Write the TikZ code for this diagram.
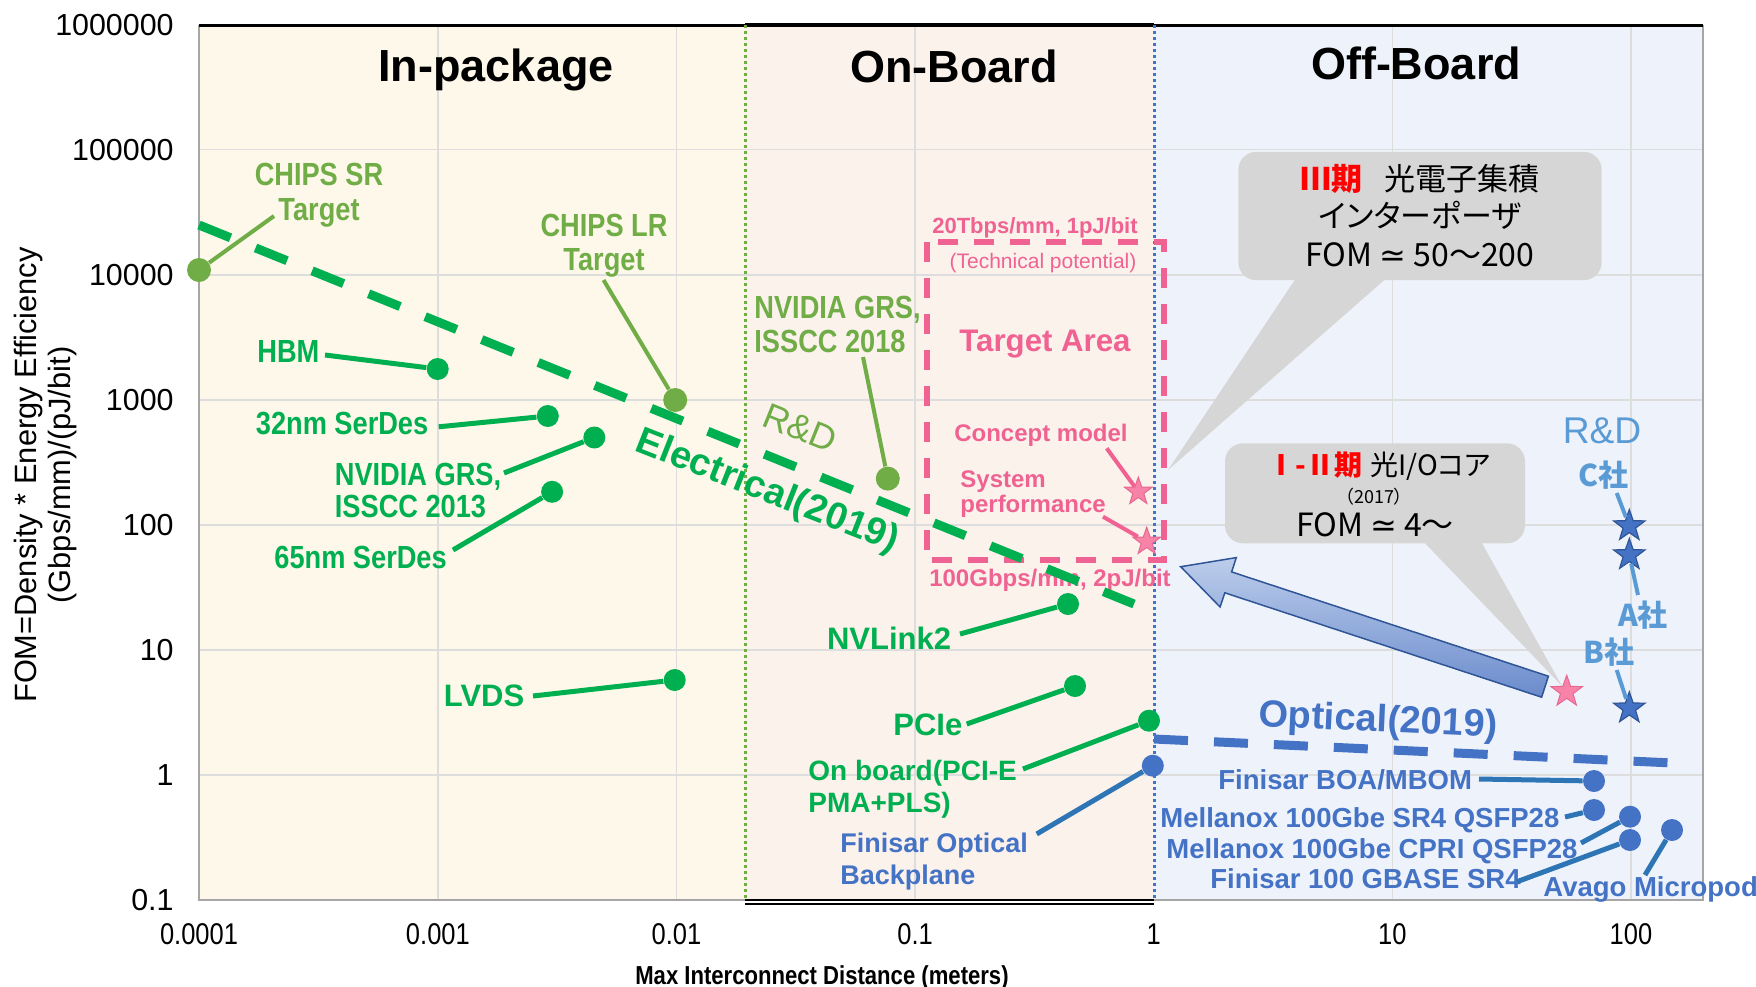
\documentclass[tikz,border=0pt]{standalone}
\usepackage{fontspec}
\setmainfont{Liberation Sans}
\newfontfamily\cond{Liberation Sans}[FakeStretch=0.85]
\newfontfamily\jp{Noto Sans CJK JP}[RawFeature=+palt]
\newfontfamily\dv{DejaVu Sans}
\usetikzlibrary{shapes.geometric}
\newcommand{\fz}[2]{\fontsize{#1}{#2}\selectfont}
\definecolor{cream}{HTML}{FDF8EA}
\definecolor{peach}{HTML}{FBF2EC}
\definecolor{lblue}{HTML}{EEF3FB}
\definecolor{gridc}{HTML}{DDDDDD}
\definecolor{egreen}{HTML}{00B050}
\definecolor{olive}{HTML}{70AD47}
\definecolor{oblue}{HTML}{4472C4}
\definecolor{dblue}{HTML}{2E75B6}
\definecolor{rdblue}{HTML}{5B9BD5}
\definecolor{pinkc}{HTML}{EF6292}
\definecolor{starpink}{HTML}{F784A8}
\definecolor{stardraw}{HTML}{E8668F}
\definecolor{bstardraw}{HTML}{2F5597}
\definecolor{callgray}{HTML}{D6D6D6}
\definecolor{axisgray}{HTML}{A6A6A6}
\definecolor{arrowtop}{HTML}{BCCDEB}
\definecolor{arrowbot}{HTML}{6A8BCC}
\definecolor{arrowline}{HTML}{2F5597}
\begin{document}
\begin{tikzpicture}[x=0.5pt,y=-0.5pt,
  dotg/.style={circle,fill=egreen,minimum size=11pt,inner sep=0pt},
  doto/.style={circle,fill=olive,minimum size=12pt,inner sep=0pt},
  dotb/.style={circle,fill=oblue,minimum size=11pt,inner sep=0pt},
  gline/.style={egreen,line width=2.5pt},
  oline/.style={olive,line width=2pt},
  bline/.style={dblue,line width=2.5pt},
  rdline/.style={rdblue,line width=2pt},
  pline/.style={pinkc,line width=2pt},
  glab/.style={inner sep=0pt,text=egreen,font=\cond\bfseries\fz{16}{16}},
  gwlab/.style={inner sep=0pt,text=egreen,font=\bfseries\fz{15.5}{15.5}},
  olab/.style={inner sep=0pt,text=olive,font=\cond\bfseries\fz{16}{17}},
  blab/.style={inner sep=0pt,text=oblue,font=\bfseries\fz{13.75}{15}},
  plab/.style={inner sep=0pt,text=pinkc,font=\bfseries\fz{12}{12.5}},
  rdlab/.style={inner sep=0pt,text=rdblue,font=\jp\bfseries\fz{15}{15}},
  titlelab/.style={inner sep=0pt,font=\bfseries\fz{22.5}{22.5}},
  ytick/.style={inner sep=0pt,anchor=east,font=\fz{15.2}{15.2}},
  xtick/.style={inner sep=0pt,font=\cond\fz{15}{15}},
  gridln/.style={gridc,line width=0.75pt},
  pstar/.style={star,star points=5,star point ratio=2.5,inner sep=0pt,minimum size=14.5pt,fill=starpink,draw=stardraw,line width=0.5pt},
  bstar/.style={star,star points=5,star point ratio=2.5,inner sep=0pt,minimum size=16.5pt,fill=oblue,draw=bstardraw,line width=0.6pt},
  callout/.style={fill=callgray,rounded corners=9pt,inner sep=0pt},
  ctext/.style={inner sep=0pt,font=\jp\fz{15.5}{15.5}},
]
\useasboundingbox (0,0) rectangle (1756,986);
% region backgrounds
\fill[cream] (199,25) rectangle (745,900);
\fill[peach] (745,25) rectangle (1154,900);
\fill[lblue] (1154,25) rectangle (1703,900);
% grid
\foreach \yy in {149.7,274.8,399.9,525,650.1,775.2} \draw[gridln] (199,\yy) -- (1703,\yy);
\foreach \xx in {437.9,676.5,915.1,1392.3,1630.9} \draw[gridln] (\xx,25) -- (\xx,900);
% frame
\draw[axisgray,line width=1.25pt] (199,25) -- (199,900) -- (745,900);
\draw[axisgray,line width=1pt] (1154,900) -- (1703,900) -- (1703,25);
\draw[black,line width=1.5pt] (199,25) -- (1703,25);
\draw[black,line width=2.3pt] (745,25) -- (1154,25);
\draw[black,line width=1pt] (745,900) -- (1154,900);
\draw[black,line width=1pt] (745,904) -- (1154,904);
\draw[olive,line width=1.5pt,dash pattern=on 1.5pt off 1.5pt] (745,25) -- (745,900);
\draw[oblue,line width=1.5pt,dash pattern=on 1.5pt off 1.5pt] (1154,25) -- (1154,900);

% axis ticks
\node[ytick] (y6) at (174,25) {1000000};
\node[ytick] (y5) at (174,149.7) {100000};
\node[ytick] (y4) at (174,274.8) {10000};
\node[ytick] (y3) at (174,399.9) {1000};
\node[ytick] (y2) at (174,525) {100};
\node[ytick] (y1) at (174,650.1) {10};
\node[ytick] (y0) at (174,775.2) {1};
\node[ytick] (ym) at (174,900.3) {0.1};
\node[xtick] (x4) at (199,934) {0.0001};
\node[xtick] (x3) at (437.9,934) {0.001};
\node[xtick] (x2) at (676.5,934) {0.01};
\node[xtick] (x1) at (915.1,934) {0.1};
\node[xtick] (x0) at (1153.7,934) {1};
\node[xtick] (xp1) at (1392.3,934) {10};
\node[xtick] (xp2) at (1630.9,934) {100};
\node[rotate=90,align=center,inner sep=0pt,font=\fz{15.4}{17}] (ylab) at (46,475) {FOM=Density * Energy Efficiency\\(Gbps/mm)/(pJ/bit)};
\node[anchor=base,inner sep=0pt,font=\cond\bfseries\fz{13}{13}] (xlab) at (822,984) {Max Interconnect Distance (meters)};

% titles
\node[titlelab,anchor=base] (tin) at (496,81.4) {In-package};
\node[titlelab,anchor=base] (ton) at (954,82) {On-Board};
\node[titlelab,anchor=base] (toff) at (1416,79) {Off-Board};

% target area
\draw[pinkc,line width=3pt,dash pattern=on 10pt off 8pt] (926.7,241.7) rectangle (1164,560);
\node[inner sep=0pt,anchor=base,text=pinkc,font=\bfseries\fz{11}{11}] (t20) at (1035,233.3) {20Tbps/mm, 1pJ/bit};
\node[inner sep=0pt,anchor=base,text=pinkc,font=\fz{10.5}{10.5}] (ttp) at (1043,268) {(Technical potential)};
\node[inner sep=0pt,anchor=base,text=pinkc,font=\bfseries\fz{15.6}{15.6}] (tta) at (1045,351.7) {Target Area};
\node[plab,anchor=base] (tcm) at (1041,441.7) {Concept model};
\node[plab,anchor=north west,align=left] (tsp) at (960,470) {System\\performance};
\node[plab,anchor=base] (t100) at (1050,586.7) {100Gbps/mm, 2pJ/bit};

% callouts
\node[callout,minimum width=181.7pt,minimum height=64.2pt] (call1) at (1420,216) {};
\coordinate (c1a) at (1298,275);
\coordinate (c1b) at (1390,275);
\coordinate (c1tip) at (1168,470);
\fill[callgray] (c1a) -- (c1b) -- (c1tip) -- cycle;
\node[ctext] (c1l1) at (1420,179) {\textcolor{red}{\bfseries Ⅲ期}\hspace{0.7em}光電子集積};
\node[ctext] (c1l2) at (1420,215.8) {インターポーザ};
\node[ctext,font=\jp\fz{16}{16}] (c1l3) at (1420,255) {FOM {\dv ≃} 50～200};

\node[callout,minimum width=150pt,minimum height=50pt] (call2) at (1375,493.3) {};
\coordinate (c2a) at (1420,538);
\coordinate (c2b) at (1479,538);
\coordinate (c2tip) at (1562,686);
\fill[callgray] (c2a) -- (c2b) -- (c2tip) -- cycle;
\node[ctext,font=\jp\fz{14}{14}] (c2l1) at (1379,466) {\textcolor{red}{\bfseries Ⅰ-Ⅱ期}\hspace{0.3em}光I/Oコア};
\node[ctext,font=\jp\fz{9}{9}] (c2l2) at (1374,496.7) {（2017）};
\node[ctext,font=\jp\fz{16}{16}] (c2l3) at (1375,525) {FOM {\dv ≃} 4～};

% big arrow
\shadedraw[draw=arrowline,line width=0.75pt,top color=arrowtop,bottom color=arrowbot]
  (1548.4,676.2) -- (1231.6,571.9) -- (1236.3,557.6) -- (1180.7,566.7) -- (1220.1,607) -- (1224.8,592.8) -- (1541.6,697.2) -- cycle;

% trend lines
\coordinate (e0) at (199,225);
\coordinate (e1) at (1134,604);
\draw[egreen,line width=4.5pt,dash pattern=on 17pt off 13.5pt] (e0) -- (e1);
\coordinate (o0) at (1154,739);
\coordinate (o1) at (1673,763);
\draw[oblue,line width=4.5pt,dash pattern=on 17pt off 13pt] (o0) -- (o1);
\node[rotate=-21.5,text=egreen,inner sep=0pt,font=\bfseries\fz{19}{19}] (elab) at (767,492) {Electrical(2019)};
\node[rotate=-22,text=olive,inner sep=0pt,font=\fz{18}{18}] (rdo) at (800,428) {R\&D};
\node[rotate=-2.6,text=oblue,inner sep=0pt,font=\bfseries\fz{19}{19}] (optl) at (1378,722) {Optical(2019)};

% data points
\node[doto] (chipssr) at (199,270) {};
\node[dotg] (hbm) at (437.7,369) {};
\node[dotg] (s32) at (547.8,416) {};
\node[dotg] (nv13) at (594.3,437.5) {};
\node[dotg] (s65) at (552.1,491.8) {};
\node[doto] (chipslr) at (675.2,400) {};
\node[dotg] (lvds) at (674.7,680) {};
\node[doto] (nv18) at (887.8,478.6) {};
\node[dotg] (nvl) at (1068,604) {};
\node[dotg] (pcie) at (1075,686) {};
\node[dotg] (onb) at (1149,720.7) {};
\node[dotb] (fob) at (1152.8,765.7) {};
\node[dotb] (boa) at (1594,781) {};
\node[dotb] (msr4) at (1594,810) {};
\node[dotb] (mcpri) at (1630,816.7) {};
\node[dotb] (f100) at (1630,840) {};
\node[dotb] (avago) at (1672,830) {};

% stars
\node[pstar] (scon) at (1138.3,491.7) {};
\node[pstar] (ssys) at (1146.7,541.7) {};
\node[pstar,minimum size=16.5pt] (s12) at (1566.7,691.7) {};
\node[bstar] (sc) at (1629.3,526) {};
\node[bstar] (sa) at (1629.3,555) {};
\node[bstar] (sb) at (1629.3,708.3) {};

% labels: olive
\node[olab,align=center,anchor=north,font=\cond\bfseries\fz{16}{17.8}] (lsr) at (319,162.5) {CHIPS SR\\Target};
\node[olab,align=center,anchor=north] (llr) at (604,214) {CHIPS LR\\Target};
\node[olab,align=left,anchor=north west] (l18) at (754,296) {NVIDIA GRS,\\ISSCC 2018};
\coordinate (esr) at (274,216);
\coordinate (elr) at (603.5,280);
\coordinate (e18) at (863,357);
\draw[oline] (esr) -- (chipssr);
\draw[oline] (elr) -- (chipslr);
\draw[oline] (e18) -- (nv18);

% labels: green
\node[glab,anchor=base west] (lhbm) at (257,362.5) {HBM};
\node[glab,anchor=base west] (l32) at (255.5,434) {32nm SerDes};
\node[glab,anchor=north west,align=left] (l13) at (334.5,462.5) {NVIDIA GRS,\\ISSCC 2013};
\node[glab,anchor=base west] (l65) at (274,568.3) {65nm SerDes};
\node[gwlab,anchor=base west] (llvds) at (443.5,706) {LVDS};
\node[gwlab,anchor=base west] (lnvl) at (826.7,649) {NVLink2};
\node[gwlab,anchor=base west] (lpcie) at (893,735) {PCIe};
\node[gwlab,anchor=north west,align=left,font=\bfseries\fz{14}{15.85}] (lonb) at (808,760) {On board(PCI-E\\PMA+PLS)};
\coordinate (ehbm) at (325,355);
\coordinate (e32) at (438.7,426.8);
\coordinate (e13) at (504,473);
\coordinate (e65) at (453,550);
\coordinate (elv) at (533,696);
\coordinate (envl) at (960,634);
\coordinate (epc) at (966.7,724);
\coordinate (eonb) at (1023,769);
\draw[gline] (ehbm) -- (hbm);
\draw[gline] (e32) -- (s32);
\draw[gline] (e13) -- (nv13);
\draw[gline] (e65) -- (s65);
\draw[gline] (elv) -- (lvds);
\draw[gline] (envl) -- (nvl);
\draw[gline] (epc) -- (pcie);
\draw[gline] (eonb) -- (onb);

% labels: blue
\node[blab,anchor=north west,align=left,font=\bfseries\fz{13.5}{16}] (lfob) at (840,833) {Finisar Optical\\Backplane};
\node[blab,anchor=base west] (lboa) at (1218,789) {Finisar BOA/MBOM};
\node[blab,anchor=base west] (lmsr) at (1160,827.7) {Mellanox 100Gbe SR4 QSFP28};
\node[blab,anchor=base west] (lmcp) at (1166,858) {Mellanox 100Gbe CPRI QSFP28};
\node[blab,anchor=base west] (lf100) at (1210,888) {Finisar 100 GBASE SR4};
\node[blab,anchor=base west] (lav) at (1543,896.7) {Avago Micropod};
\coordinate (efob) at (1036.7,834);
\coordinate (eboa) at (1479,779);
\coordinate (emsr) at (1565,817);
\coordinate (emcp) at (1581,843);
\coordinate (ef100) at (1517,881.7);
\coordinate (eav) at (1645,875);
\draw[bline] (efob) -- (fob);
\draw[bline] (eboa) -- (boa);
\draw[bline] (emsr) -- (msr4);
\draw[bline] (emcp) -- (mcpri);
\draw[bline] (ef100) -- (f100);
\draw[bline] (eav) -- (avago);

% R&D companies
\node[inner sep=0pt,anchor=base,text=rdblue,font=\fz{18.6}{18.6}] (rdb) at (1602,443) {R\&D};
\node[rdlab,anchor=base] (lc) at (1603,486) {C社};
\node[rdlab,anchor=base] (la) at (1643,626) {A社};
\node[rdlab,anchor=base] (lb) at (1609,663) {B社};
\coordinate (cC) at (1616.7,493);
\coordinate (cA) at (1638,595);
\coordinate (cB) at (1616.7,670);
\draw[rdline] (cC) -- (sc);
\draw[rdline] (sa) -- (cA);
\draw[rdline] (cB) -- (sb);

% pink pointers
\coordinate (pcon) at (1106.7,448.3);
\coordinate (psys) at (1103,516.7);
\draw[pline] (pcon) -- (scon);
\draw[pline] (psys) -- (ssys);
\end{tikzpicture}
\end{document}
